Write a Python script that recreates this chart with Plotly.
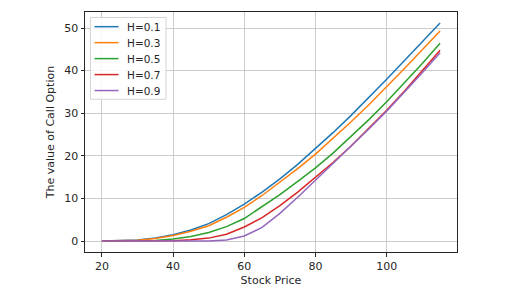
import plotly.graph_objects as go

stock_price = [20, 25, 30, 35, 40, 45, 50, 55, 60, 65, 70, 75, 80, 85, 90, 95, 100, 105, 110, 115]

h_labels = ["H=0.1", "H=0.3", "H=0.5", "H=0.7", "H=0.9"]

call_h01 = [0.0, 0.05, 0.25, 0.7, 1.5, 2.6, 4.1, 6.2, 8.7, 11.5, 14.6, 18.0, 21.7, 25.5, 29.5, 33.7, 38.0, 42.4, 46.8, 51.2]
call_h03 = [0.0, 0.03, 0.2, 0.6, 1.3, 2.3, 3.6, 5.6, 7.9, 10.7, 13.8, 17.0, 20.4, 24.1, 28.0, 32.0, 36.2, 40.5, 44.9, 49.3]
call_h05 = [0.0, 0.0, 0.02, 0.15, 0.5, 1.1, 2.0, 3.4, 5.3, 8.0, 10.9, 14.0, 17.2, 20.7, 24.5, 28.5, 32.7, 37.1, 41.7, 46.4]
call_h07 = [0.0, 0.0, 0.0, 0.02, 0.1, 0.3, 0.7, 1.6, 3.3, 5.5, 8.3, 11.5, 14.9, 18.5, 22.3, 26.4, 30.7, 35.2, 39.9, 44.8]
call_h09 = [0.0, 0.0, 0.0, 0.0, 0.0, 0.0, 0.02, 0.25, 1.2, 3.2, 6.5, 10.3, 14.3, 18.2, 22.2, 26.3, 30.5, 34.9, 39.5, 44.2]

series = [call_h01, call_h03, call_h05, call_h07, call_h09]
colors = ["#1f77b4", "#ff7f0e", "#2ca02c", "#d62728", "#9467bd"]

x_ticks = [20, 40, 60, 80, 100]
y_ticks = [0, 10, 20, 30, 40, 50]

W, H = 520, 295
ML, MR, MT, MB = 85, 63, 11, 42
PW, PH = W - ML - MR, H - MT - MB

fig = go.Figure()
for name, vals, col in zip(h_labels, series, colors):
    fig.add_trace(go.Scatter(x=stock_price, y=vals, mode="lines", name=name,
                             line=dict(color=col, width=1.5), showlegend=False))

# legend drawn in pixel positions relative to plot area (paper coords)
def px_x(p):
    return (p - ML) / PW

def px_y(p):
    return 1 - (p - MT) / PH

shapes = [dict(type="rect", xref="paper", yref="paper",
               x0=px_x(90.5), x1=px_x(166), y0=px_y(16.5), y1=px_y(99),
               line=dict(color="#d4d4d4", width=1), fillcolor="rgba(255,255,255,0.85)",
               layer="above")]
annotations = []
for i, (name, col) in enumerate(zip(h_labels, colors)):
    yy = 25.8 + i * 16.1
    shapes.append(dict(type="line", xref="paper", yref="paper",
                       x0=px_x(94.5), x1=px_x(118.5), y0=px_y(yy), y1=px_y(yy),
                       line=dict(color=col, width=1.5), layer="above"))
    annotations.append(dict(xref="paper", yref="paper", x=px_x(125), y=px_y(yy),
                            xanchor="left", yanchor="middle", text=name, showarrow=False,
                            font=dict(family="DejaVu Sans", size=10.5, color="#262626")))

font = dict(family="DejaVu Sans", size=11, color="#262626")
axis_common = dict(showline=True, linecolor="#262626", linewidth=1, mirror=True,
                   ticks="outside", ticklen=3.5, tickwidth=0.8, tickcolor="#262626",
                   showgrid=True, gridcolor="#cccccc", gridwidth=0.8, zeroline=False,
                   tickfont=font)

fig.update_layout(
    width=W, height=H,
    margin=dict(l=ML, r=MR, t=MT, b=MB),
    paper_bgcolor="white", plot_bgcolor="white",
    font=font,
    showlegend=False,
    shapes=shapes,
    annotations=annotations,
    xaxis=dict(range=[15.25, 119.75], tickvals=x_ticks,
               title=dict(text="Stock Price", font=font, standoff=4), **axis_common),
    yaxis=dict(range=[-2.56, 53.76], tickvals=y_ticks,
               title=dict(text="The value of Call Option", font=font, standoff=7), **axis_common),
)

fig.write_html("out.html", config={"displayModeBar": False},
               post_script="document.body.style.margin='0';")
